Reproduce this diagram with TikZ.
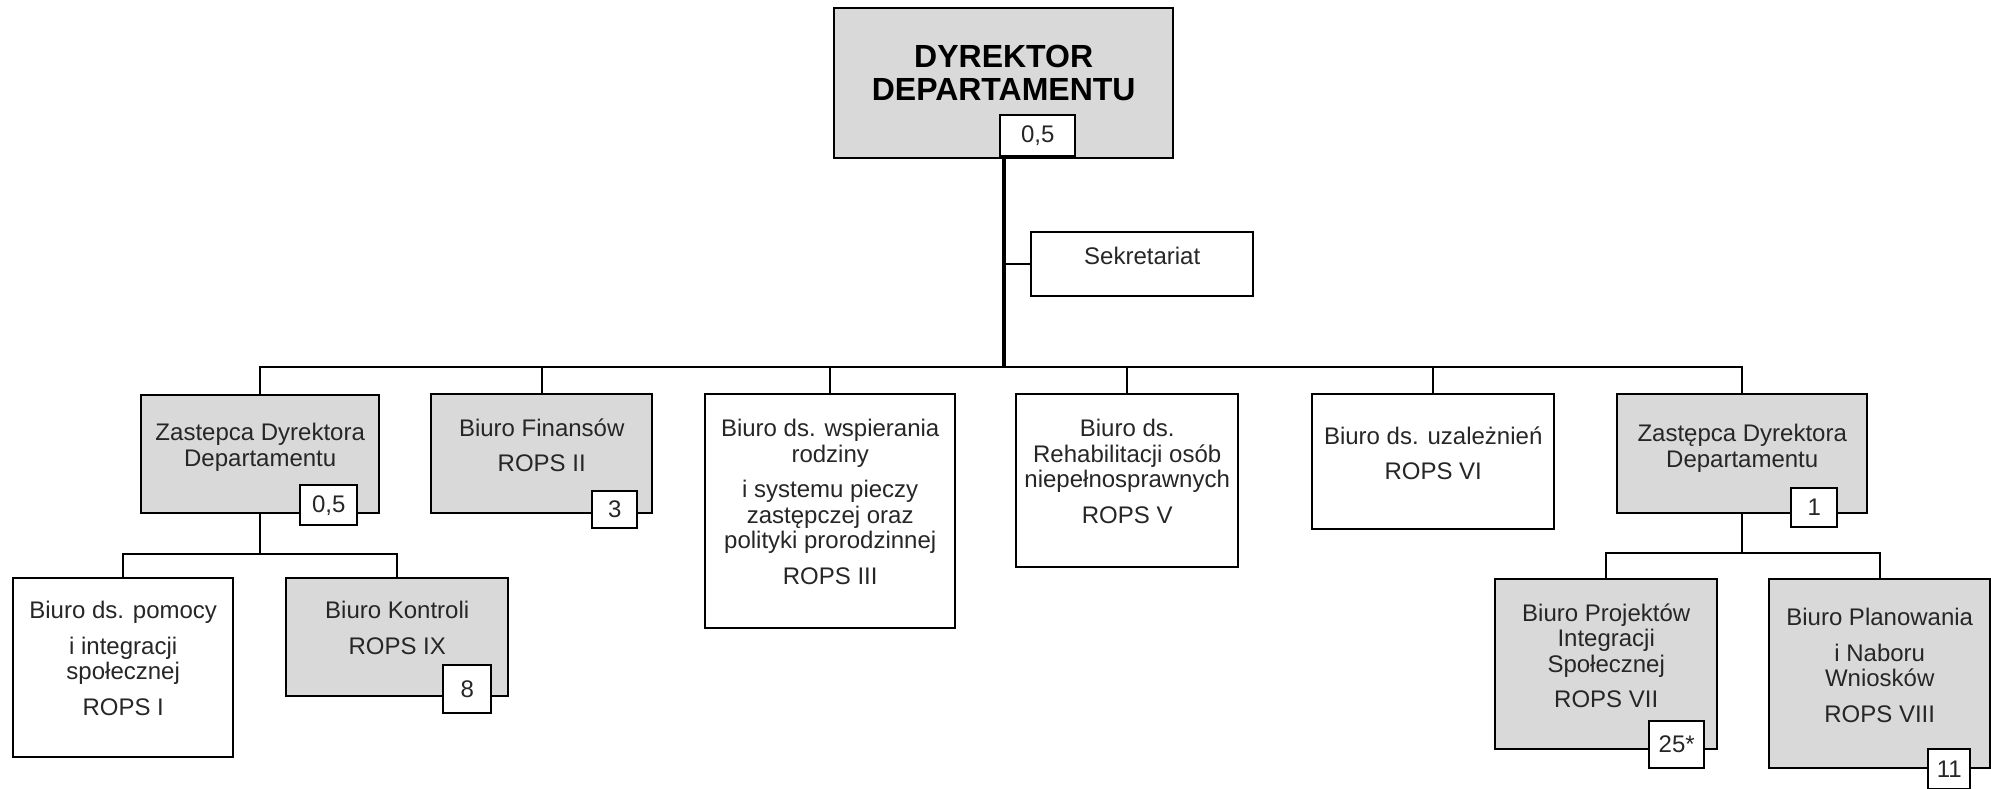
\documentclass[tikz,border=0pt]{standalone}
\usepackage{fontspec}
\setmainfont{Liberation Sans}
\usetikzlibrary{positioning}
\definecolor{deptgrey}{HTML}{D9D9D9}
\definecolor{inkgrey}{HTML}{262626}
\tikzset{
  dept/.style 2 args={draw, line width=1.2pt, fill=white, anchor=north west,
    inner sep=0pt, minimum width=#1, minimum height=#2},
  txt/.style={anchor=north, align=center, inner sep=0pt, text=inkgrey,
    font=\fontsize{12}{12.75}\selectfont},
  etat/.style 2 args={draw, line width=1.2pt, fill=white, anchor=north west,
    inner sep=0pt, minimum width=#1, minimum height=#2, text=inkgrey,
    font=\fontsize{12}{12}\selectfont},
  link/.style={line width=1pt},
  trunk/.style={line width=2pt},
}
\begin{document}
\begin{tikzpicture}[x=0.5pt,y=-0.5pt]
	\useasboundingbox (0,0) rectangle (1991,788);

	% dyrekcja
	\node[dept={169.5pt}{75pt}, fill=deptgrey] (dyr) at (833,7) {};
	\node[txt, text=black, font=\bfseries\fontsize{16}{16.5}\selectfont] (dyr-t) at ([yshift=-19pt]dyr.north) {DYREKTOR\\DEPARTAMENTU};
	\node[dept={111pt}{32pt}] (sekr) at (1030,231) {};
	\node[txt] (sekr-t) at ([yshift=-8pt]sekr.north) {Sekretariat};

	% pierwszy poziom
	\node[dept={119pt}{59pt}, fill=deptgrey] (zd1) at (140,394) {};
	\node[txt] (zd1-t) at ([yshift=-14.5pt]zd1.north) {Zastepca Dyrektora\\Departamentu};
	\node[dept={110.5pt}{59.5pt}, fill=deptgrey] (fin) at (430,393) {};
	\node[txt] (fin-t) at ([yshift=-12.5pt]fin.north) {Biuro Finansów\\[5pt]ROPS II};
	\node[dept={125pt}{117pt}] (rodz) at (704,393) {};
	\node[txt] (rodz-t) at ([yshift=-13pt]rodz.north) {Biuro ds. wspierania\\rodziny\\[5pt]i systemu pieczy\\zastępczej oraz\\polityki prorodzinnej\\[5pt]ROPS III};
	\node[dept={111pt}{86.5pt}] (reh) at (1015,393) {};
	\node[txt] (reh-t) at ([yshift=-13pt]reh.north) {Biuro ds.\\Rehabilitacji osób\\niepełnosprawnych\\[5pt]ROPS V};
	\node[dept={121pt}{67.5pt}] (uzal) at (1311,393) {};
	\node[txt] (uzal-t) at ([yshift=-16.5pt]uzal.north) {Biuro ds. uzależnień\\[5pt]ROPS VI};
	\node[dept={125pt}{59.5pt}, fill=deptgrey] (zd2) at (1616,393) {};
	\node[txt] (zd2-t) at ([yshift=-15.5pt]zd2.north) {Zastępca Dyrektora\\Departamentu};

	% drugi poziom
	\node[dept={110pt}{89.5pt}] (pom) at (12,577) {};
	\node[txt] (pom-t) at ([yshift=-12pt]pom.north) {Biuro ds. pomocy\\[5pt]i integracji\\społecznej\\[5pt]ROPS I};
	\node[dept={111pt}{59pt}, fill=deptgrey] (kon) at (285,577) {};
	\node[txt] (kon-t) at ([yshift=-12pt]kon.north) {Biuro Kontroli\\[5pt]ROPS IX};
	\node[dept={111pt}{85pt}, fill=deptgrey] (proj) at (1494,578) {};
	\node[txt] (proj-t) at ([yshift=-12.5pt]proj.north) {Biuro Projektów\\Integracji\\Społecznej\\[5pt]ROPS VII};
	\node[dept={110.5pt}{94.5pt}, fill=deptgrey] (plan) at (1768,578) {};
	\node[txt] (plan-t) at ([yshift=-15pt]plan.north) {Biuro Planowania\\[5pt]i Naboru\\Wniosków\\[5pt]ROPS VIII};

	% linie
	\coordinate (hub) at (dyr.south |- 0,367);
	\draw[trunk] (dyr.south) -- (hub);
	\draw[link] (sekr.west) -- (sekr.west -| dyr.south);
	\foreach \n in {zd1,fin,rodz,reh,uzal,zd2}
		\draw[link] (hub) -| (\n.north);
	\foreach \n in {pom,kon}
		\draw[link] (zd1.south) -- ++(0,40) -| (\n.north);
	\foreach \n in {proj,plan}
		\draw[link] (zd2.south) -- ++(0,39) -| (\n.north);

	% etaty
	\node[etat={37.5pt}{20.5pt}] (dyr-e) at (999,114) {0,5};
	\node[etat={28.5pt}{20pt}] (zd1-e) at (299,484) {0,5};
	\node[etat={22.5pt}{18.5pt}] (fin-e) at (591,490) {3};
	\node[etat={24pt}{24pt}] (kon-e) at (442,664) {8};
	\node[etat={23pt}{19.5pt}] (zd2-e) at (1790,487) {1};
	\node[etat={27.5pt}{23.5pt}] (proj-e) at (1648,720) {25*};
	\node[etat={21pt}{20pt}] (plan-e) at (1927,748) {11};
\end{tikzpicture}
\end{document}
